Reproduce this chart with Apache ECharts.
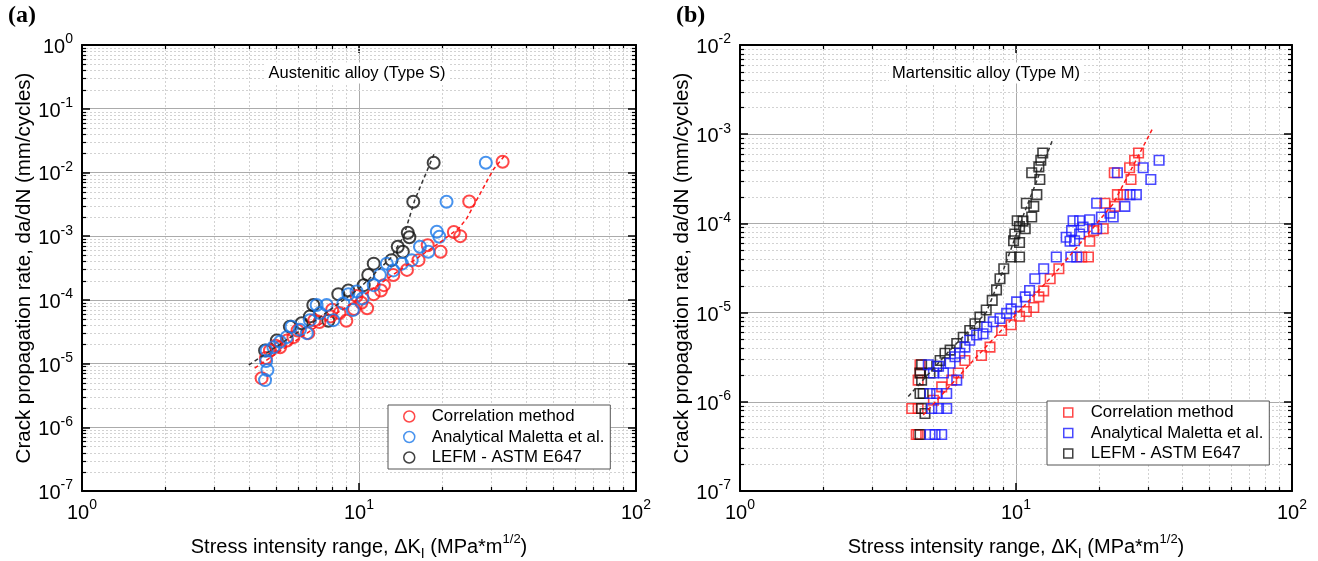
<!DOCTYPE html>
<html><head><meta charset="utf-8">
<script src="https://cdn.jsdelivr.net/npm/echarts@6/dist/echarts.min.js"></script>
<style>html,body{margin:0;padding:0;background:#fff}#c{width:1318px;height:561px}</style>
</head><body><div id="c"></div>
<script>
// ---------------- DATA ----------------
// Panel (a) Austenitic alloy (Type S): [ΔK (MPa*m^1/2), da/dN (mm/cycle)]
const austCorrelation = [[33.0,1.47e-2],[25.0,3.5e-3],[23.2,1.0e-3],[22.0,1.16e-3],[19.7,5.7e-4],[17.7,7.2e-4],[16.4,4.2e-4],[14.9,2.95e-4],[13.3,2.45e-4],[12.3,1.7e-4],[12.0,1.4e-4],[11.3,1.23e-4],[10.7,7.4e-5],[10.2,9.0e-5],[9.8,1.15e-4],[9.6,7.2e-5],[9.0,4.7e-5],[8.5,6.2e-5],[8.0,7.0e-5],[7.9,5.5e-5],[7.2,4.5e-5],[6.9,4.8e-5],[6.56,3.0e-5],[6.0,3.3e-5],[5.8,2.6e-5],[5.5,2.3e-5],[5.19,1.8e-5],[5.0,1.9e-5],[4.77,1.6e-5],[4.61,1.22e-5],[4.45,5.9e-6]];
const austAnalytical = [[28.7,1.42e-2],[20.7,3.47e-3],[19.1,1.17e-3],[19.5,9.8e-4],[16.6,6.8e-4],[17.8,5.7e-4],[15.5,4.2e-4],[14.3,3.7e-4],[13.3,2.9e-4],[12.6,3.7e-4],[11.9,2.45e-4],[11.3,1.7e-4],[10.3,1.05e-4],[9.8,1.35e-4],[9.15,1.23e-4],[8.78,8.8e-5],[9.5,6.9e-5],[8.08,4.8e-5],[7.64,8.3e-5],[7.03,8.3e-5],[7.23,6.2e-5],[6.65,4.8e-5],[6.48,3.0e-5],[6.12,3.4e-5],[5.71,3.8e-5],[5.48,2.6e-5],[5.19,2.2e-5],[4.91,1.8e-5],[4.64,1.6e-5],[4.62,1.1e-5],[4.67,7.9e-6],[4.58,5.5e-6]];
const austLEFM = [[18.6,1.42e-2],[15.7,3.47e-3],[15.0,1.13e-3],[15.2,9.6e-4],[13.8,6.8e-4],[14.4,5.7e-4],[13.1,4.2e-4],[11.3,3.7e-4],[10.8,2.45e-4],[10.4,1.7e-4],[9.15,1.4e-4],[8.42,1.23e-4],[7.75,4.7e-5],[6.84,8.3e-5],[6.65,5.5e-5],[6.21,4.3e-5],[5.63,3.8e-5],[5.05,2.3e-5],[4.58,1.6e-5]];
const austCorrelationFit = [[4.2,8.5e-6],[10,1.05e-4],[20,8.5e-4],[23,1.35e-3],[24.5,1.9e-3],[26.6,3.7e-3],[30.5,1.1e-2],[34.1,2.0e-2]];
const austLEFMFit = [[4.0,9.5e-6],[7,4.8e-5],[10,1.5e-4],[13,4.5e-4],[14.5,1.0e-3],[15.9,3.7e-3],[18.8,2.1e-2]];

// Panel (b) Martensitic alloy (Type M)
const martCorrelation = [[27.8,6.15e-4],[26.9,5.1e-4],[25.8,4.2e-4],[22.7,3.7e-4],[26.1,3.1e-4],[23.3,2.1e-4],[24.5,2.1e-4],[21.0,1.68e-4],[22.8,1.55e-4],[20.7,8.7e-5],[19.1,8.3e-5],[18.5,6.3e-5],[18.3,4.2e-5],[17.3,4.2e-5],[14.3,3.1e-5],[13.3,2.4e-5],[12.6,1.75e-5],[12.1,1.5e-5],[11.6,1.14e-5],[10.9,1.03e-5],[10.3,9.1e-6],[9.6,7.3e-6],[8.87,6.3e-6],[8.05,4.1e-6],[7.5,3.3e-6],[6.53,2.9e-6],[6.18,2.1e-6],[5.85,1.75e-6],[5.38,1.47e-6],[5.02,1.04e-6],[4.49,2.6e-6],[4.49,2.1e-6],[4.42,1.75e-6],[4.19,8.4e-7],[4.42,8.4e-7],[4.42,4.3e-7],[4.35,4.3e-7]];
const martLEFM = [[12.5,6.15e-4],[12.3,5.1e-4],[12.1,4.3e-4],[11.4,3.7e-4],[12.2,3.1e-4],[11.9,2.1e-4],[10.9,1.68e-4],[11.6,1.55e-4],[11.4,1.18e-4],[10.1,1.07e-4],[10.6,1.06e-4],[10.3,9.2e-5],[10.8,8.7e-5],[9.9,7.6e-5],[10.3,6.1e-5],[9.8,6.4e-5],[9.6,4.2e-5],[10.3,4.2e-5],[9.03,3.1e-5],[8.75,2.4e-5],[8.5,1.8e-5],[8.2,1.37e-5],[7.8,1.07e-5],[7.4,8.9e-6],[7.1,7.5e-6],[6.8,6.3e-6],[6.44,5.3e-6],[6.1,4.5e-6],[5.77,3.8e-6],[5.53,3.5e-6],[5.31,2.9e-6],[5.16,2.5e-6],[4.88,2.1e-6],[4.55,2.6e-6],[4.49,2.1e-6],[4.55,1.75e-6],[4.49,1.24e-6],[4.61,1.24e-6],[4.55,8.4e-7],[4.68,7.4e-7],[4.49,4.3e-7]];
const martAnalytical = [[33.0,5.1e-4],[28.9,4.2e-4],[23.3,3.7e-4],[30.8,3.1e-4],[27.3,2.1e-4],[25.9,2.1e-4],[19.6,1.68e-4],[24.8,1.55e-4],[22.5,1.18e-4],[21.9,1.3e-4],[20.4,1.18e-4],[18.5,1.1e-4],[17.0,1.07e-4],[16.1,1.07e-4],[19.6,8.7e-5],[17.5,9.1e-5],[15.9,8.3e-5],[17.0,7.6e-5],[15.2,7.0e-5],[16.3,6.4e-5],[15.7,6.3e-5],[14.0,4.2e-5],[15.8,4.2e-5],[16.6,4.2e-5],[12.6,3.1e-5],[11.7,2.4e-5],[11.2,1.77e-5],[10.8,1.5e-5],[10.05,1.32e-5],[9.6,1.1e-5],[9.25,9.8e-6],[8.75,8.6e-6],[8.27,7.9e-6],[7.83,6.9e-6],[7.6,5.8e-6],[7.2,5.6e-6],[6.8,4.9e-6],[6.53,4.1e-6],[6.26,3.5e-6],[6.01,3.2e-6],[5.77,2.7e-6],[5.46,2.1e-6],[5.24,2.5e-6],[5.02,2.1e-6],[4.81,2.6e-6],[6.1,1.75e-6],[5.61,1.24e-6],[5.16,1.24e-6],[4.88,1.24e-6],[5.61,8.4e-7],[5.24,8.4e-7],[4.95,8.4e-7],[5.38,4.3e-7],[5.09,4.3e-7],[4.88,4.3e-7]];
const martCorrelationFit = [[4.61,7.1e-7],[7.4,3.5e-6],[14.3,3.1e-5],[22.5,1.66e-4],[31.4,1.19e-3]];
const martLEFMFit = [[4.07,1.15e-6],[5.77,3.8e-6],[7.8,1.0e-5],[9.03,3.1e-5],[10.6,1.2e-4],[13.6,8.8e-4]];

// Axes ranges / labels
const xRange = [1, 100];
const yRangeA = [1e-7, 1];
const yRangeB = [1e-7, 1e-2];
const seriesNames = ['Correlation method', 'Analytical Maletta et al.', 'LEFM - ASTM E647'];
const panelTitles = ['Austenitic alloy (Type S)', 'Martensitic alloy (Type M)'];
const panelLetters = ['(a)', '(b)'];

// ---------------- STYLE ----------------
const FONT = "'Liberation Sans', Arial, Helvetica, sans-serif";
const RED = '#ff1a1a', BLUE_A = '#1a78ea', BLUE_B = '#1a1aff', BLACK = '#111';
const grids = [
  {left: 82, top: 45, width: 554, height: 446},
  {left: 740, top: 45, width: 552, height: 446}
];

function tickLabel(v) {
  const e = Math.round(Math.log10(v));
  return '{b|10}{s|' + e + '}';
}
const labelRich = {
  b: {fontSize: 20, fontFamily: FONT, color: '#000', lineHeight: 25, verticalAlign: 'bottom'},
  s: {fontSize: 14, fontFamily: FONT, color: '#000', verticalAlign: 'top'}
};

function minorVals(lo, hi) {
  const out = [];
  for (let e = lo; e < hi; e++) for (let m = 2; m <= 9; m++) out.push(m * Math.pow(10, e));
  return out;
}

function mainX(gi) {
  return {
    type: 'log', logBase: 10, gridIndex: gi, min: xRange[0], max: xRange[1], interval: 1,
    position: 'bottom',
    axisLine: {show: true, onZero: false, lineStyle: {color: '#000', width: 2}},
    axisTick: {show: true, inside: true, length: 8, lineStyle: {color: '#000', width: 1.5}},
    axisLabel: {show: true, margin: 7, formatter: tickLabel, rich: labelRich},
    splitLine: {show: true, lineStyle: {color: '#ababab', width: 1}},
    name: '{n|Stress intensity range, \u0394K}{sub|I}{n| (MPa*m}{sup|1/2}{n|)}',
    nameLocation: 'middle', nameGap: 42,
    nameTextStyle: {rich: {
      n: {fontSize: 20, fontFamily: FONT, color: '#000', lineHeight: 28, verticalAlign: 'middle'},
      sub: {fontSize: 14, fontFamily: FONT, color: '#000', verticalAlign: 'bottom'},
      sup: {fontSize: 13, fontFamily: FONT, color: '#000', verticalAlign: 'top'}
    }}
  };
}
function topX(gi) {
  return {
    type: 'log', logBase: 10, gridIndex: gi, min: xRange[0], max: xRange[1], interval: 1,
    position: 'top',
    axisLine: {show: true, onZero: false, lineStyle: {color: '#000', width: 2}},
    axisTick: {show: true, inside: true, length: 8, lineStyle: {color: '#000', width: 1.5}},
    axisLabel: {show: false}, splitLine: {show: false}
  };
}
function mainY(gi, range, gap) {
  return {
    type: 'log', logBase: 10, gridIndex: gi, min: range[0], max: range[1], interval: 1,
    position: 'left',
    axisLine: {show: true, onZero: false, lineStyle: {color: '#000', width: 2}},
    axisTick: {show: true, inside: true, length: 8, lineStyle: {color: '#000', width: 1.5}},
    axisLabel: {show: true, margin: 9, formatter: tickLabel, rich: labelRich},
    splitLine: {show: true, lineStyle: {color: '#ababab', width: 1}},
    name: 'Crack propagation rate, da/dN (mm/cycles)',
    nameLocation: 'middle', nameGap: gap,
    nameTextStyle: {fontSize: 20.5, fontFamily: FONT, color: '#000'}
  };
}
function rightY(gi, range) {
  return {
    type: 'log', logBase: 10, gridIndex: gi, min: range[0], max: range[1], interval: 1,
    position: 'right',
    axisLine: {show: true, onZero: false, lineStyle: {color: '#000', width: 2}},
    axisTick: {show: true, inside: true, length: 8, lineStyle: {color: '#000', width: 1.5}},
    axisLabel: {show: false}, splitLine: {show: false}
  };
}

function renderMinor(params, api) {
  const cs = params.coordSys;
  const kind = api.value(2);
  const p = api.coord([api.value(0), api.value(1)]);
  const grid = {stroke: '#d2d2d2', lineWidth: 1, lineDash: [2, 2]};
  const tk = {stroke: '#000', lineWidth: 1.2};
  const L = 4;
  if (kind === 0) {
    const x = Math.round(p[0]) + 0.5;
    const y0 = cs.y, y1 = cs.y + cs.height;
    return {type: 'group', children: [
      {type: 'line', shape: {x1: x, y1: y0, x2: x, y2: y1}, style: grid},
      {type: 'line', shape: {x1: x, y1: y1, x2: x, y2: y1 - L}, style: tk},
      {type: 'line', shape: {x1: x, y1: y0, x2: x, y2: y0 + L}, style: tk}
    ]};
  } else {
    const y = Math.round(p[1]) + 0.5;
    const x0 = cs.x, x1 = cs.x + cs.width;
    return {type: 'group', children: [
      {type: 'line', shape: {x1: x0, y1: y, x2: x1, y2: y}, style: grid},
      {type: 'line', shape: {x1: x0, y1: y, x2: x0 + L, y2: y}, style: tk},
      {type: 'line', shape: {x1: x1, y1: y, x2: x1 - L, y2: y}, style: tk}
    ]};
  }
}
function minorSeries(xi, yi, yr) {
  const data = [];
  minorVals(0, 2).forEach(v => data.push([v, yr[0], 0]));
  minorVals(Math.round(Math.log10(yr[0])), Math.round(Math.log10(yr[1]))).forEach(v => data.push([xRange[0], v, 1]));
  return {type: 'custom', xAxisIndex: xi, yAxisIndex: yi, silent: true, z: 1,
    renderItem: renderMinor, data: data, encode: {x: 0, y: 1}, tooltip: {show: false}};
}

function scatter(name, data, xi, yi, symbol, size, color, bw) {
  return {type: 'scatter', name: name, data: data, xAxisIndex: xi, yAxisIndex: yi,
    symbol: symbol, symbolSize: size, z: 3,
    itemStyle: {color: 'rgba(255,255,255,0)', borderColor: color, borderWidth: bw},
    emphasis: {disabled: true}};
}
function fit(name, data, xi, yi, color) {
  return {type: 'line', name: name, data: data, xAxisIndex: xi, yAxisIndex: yi, z: 4,
    symbol: 'none', lineStyle: {color: color, width: 1.5, type: [4, 3]}, emphasis: {disabled: true}};
}

function legend(left, top, icon, colors, size, padLeft, textPad) {
  return {
    left: left, top: top, orient: 'vertical', padding: [3, 6, 3, padLeft], itemGap: 3.5,
    itemWidth: size, itemHeight: size, borderColor: '#555', borderWidth: 1, backgroundColor: '#fff',
    selectedMode: false,
    textStyle: {fontSize: 16.8, fontFamily: FONT, color: '#000', padding: [0, 0, 0, textPad]},
    data: seriesNames.map((n, i) => ({name: n, icon: icon,
      itemStyle: {color: 'rgba(255,255,255,0)', borderColor: colors[i], borderWidth: 1.5}}))
  };
}

const titleStyle = {font: "16.5px 'Liberation Sans', Arial, sans-serif", fill: '#000', align: 'center', verticalAlign: 'middle', backgroundColor: '#fff', padding: [2, 3]};

const option = {
  animation: false,
  backgroundColor: '#fff',
  grid: grids.map(g => Object.assign({containLabel: false, outerBoundsMode: 'none'}, g)),
  xAxis: [mainX(0), topX(0), mainX(1), topX(1)],
  yAxis: [mainY(0, yRangeA, 47), rightY(0, yRangeA), mainY(1, yRangeB, 42), rightY(1, yRangeB)],
  legend: [
    legend(388, 405, 'circle', [RED, BLUE_A, BLACK], 11, 15, 12),
    legend(1047, 401, 'rect', [RED, BLUE_B, BLACK], 9, 16, 13)
  ],
  graphic: [
    {type: 'text', x: 8, y: 4, style: {text: panelLetters[0], font: "bold 24px 'Liberation Serif', 'Times New Roman', serif", fill: '#000'}},
    {type: 'text', x: 676, y: 4, style: {text: panelLetters[1], font: "bold 24px 'Liberation Serif', 'Times New Roman', serif", fill: '#000'}},
    {type: 'text', x: 357, y: 73, z: 10, style: Object.assign({text: panelTitles[0]}, titleStyle)},
    {type: 'text', x: 986, y: 73, z: 10, style: Object.assign({text: panelTitles[1]}, titleStyle)}
  ],
  series: [
    minorSeries(0, 0, yRangeA),
    minorSeries(2, 2, yRangeB),
    scatter(seriesNames[2], austLEFM, 0, 0, 'circle', 12, BLACK, 2),
    scatter(seriesNames[0], austCorrelation, 0, 0, 'circle', 12, RED, 2),
    scatter(seriesNames[1], austAnalytical, 0, 0, 'circle', 12, BLUE_A, 2),
    fit('fitA_red', austCorrelationFit, 0, 0, RED),
    fit('fitA_black', austLEFMFit, 0, 0, '#333'),
    scatter(seriesNames[0], martCorrelation, 2, 2, 'rect', 9.5, RED, 1.6),
    scatter(seriesNames[2], martLEFM, 2, 2, 'rect', 9.5, BLACK, 1.6),
    scatter(seriesNames[1], martAnalytical, 2, 2, 'rect', 9.5, BLUE_B, 1.6),
    fit('fitB_red', martCorrelationFit, 2, 2, RED),
    fit('fitB_black', martLEFMFit, 2, 2, '#333')
  ]
};
const chart = echarts.init(document.getElementById('c'));
chart.setOption(option);
</script>
</body></html>
